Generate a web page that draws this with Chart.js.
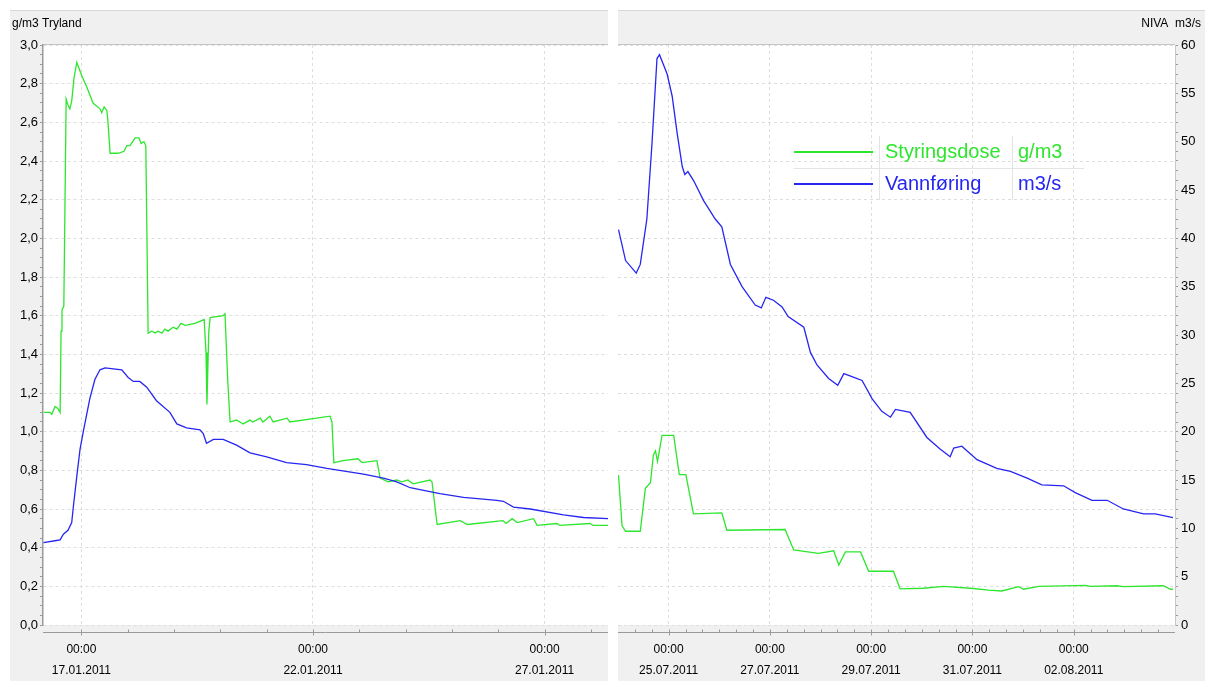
<!DOCTYPE html>
<html>
<head>
<meta charset="utf-8">
<title>Tryland / NIVA</title>
<script src="https://cdn.jsdelivr.net/npm/chart.js@4.4.0/dist/chart.umd.min.js"></script>
<style>
    body { margin: 0; background: #fff; width: 1205px; height: 681px; overflow: hidden; }
    .panel { position: absolute; top: 10px; height: 671px; }
    #leftPanel { left: 10px; width: 598px; }
    #rightPanel { left: 618px; width: 587px; }
</style>
</head>
<body>
<div class="panel" id="leftPanel"><canvas id="leftChart"></canvas></div>
<div class="panel" id="rightPanel"><canvas id="rightChart"></canvas></div>
<script>
// x values are days since the panel's start date (00:00)
const seriesNames = ['Styringsdose', 'Vannføring'];
const seriesUnits = ['g/m3', 'm3/s'];

// left panel: Tryland, days since 16.01.2011
const leftTickDays = [1, 6, 11];
const leftTickDates = ['17.01.2011', '22.01.2011', '27.01.2011'];

const leftDoseDays = [0.19, 0.32, 0.36, 0.43, 0.49, 0.54, 0.56, 0.58, 0.62, 0.67, 0.71, 0.75, 0.79, 0.84, 0.90, 1.01, 1.12, 1.25, 1.40, 1.44,
    1.49, 1.55, 1.57, 1.62, 1.79, 1.92, 1.98, 2.05, 2.16, 2.24, 2.29, 2.35, 2.39, 2.44, 2.52, 2.59, 2.65, 2.74, 2.80, 2.87,
    2.98, 3.06, 3.15, 3.24, 3.45, 3.65, 3.69, 3.71, 3.75, 3.78, 4.06, 4.10, 4.16, 4.21, 4.35, 4.49, 4.64, 4.70, 4.86, 4.92,
    5.07, 5.14, 5.44, 5.50, 6.37, 6.41, 6.45, 6.65, 6.97, 7.06, 7.38, 7.45, 7.62, 7.81, 7.92, 8.05, 8.16, 8.53, 8.57, 8.68,
    9.18, 9.33, 10.10, 10.17, 10.30, 10.41, 10.76, 10.84, 11.27, 11.33, 11.98, 12.05, 12.37];
const leftDoseValues = [1.10, 1.10, 1.09, 1.13, 1.12, 1.10, 1.52, 1.63, 1.65, 2.72, 2.69, 2.67, 2.71, 2.83, 2.91, 2.84, 2.78, 2.70, 2.67, 2.65,
    2.68, 2.66, 2.61, 2.44, 2.44, 2.45, 2.48, 2.48, 2.52, 2.52, 2.49, 2.50, 2.48, 1.51, 1.52, 1.51, 1.52, 1.51, 1.53, 1.52,
    1.54, 1.53, 1.56, 1.55, 1.56, 1.58, 1.41, 1.14, 1.52, 1.59, 1.60, 1.61, 1.26, 1.05, 1.06, 1.04, 1.06, 1.05, 1.07, 1.05,
    1.08, 1.05, 1.07, 1.05, 1.08, 1.05, 0.84, 0.85, 0.86, 0.84, 0.85, 0.76, 0.74, 0.75, 0.74, 0.75, 0.73, 0.75, 0.74, 0.52,
    0.54, 0.52, 0.54, 0.525, 0.55, 0.53, 0.55, 0.515, 0.525, 0.515, 0.525, 0.515, 0.515];

const leftFlowDays = [0.18, 0.46, 0.54, 0.61, 0.71, 0.79, 0.82, 0.90, 0.97, 1.04, 1.18, 1.29, 1.40, 1.51, 1.87, 2.01, 2.12, 2.26, 2.41, 2.62,
    2.91, 3.06, 3.27, 3.56, 3.63, 3.70, 3.85, 4.06, 4.35, 4.64, 5.00, 5.43, 5.86, 6.30, 7.09, 7.52, 7.81, 8.10, 8.31, 8.74,
    9.25, 9.97, 10.11, 10.33, 10.69, 11.41, 11.84, 12.37];
const leftFlowValues = [0.426, 0.437, 0.44, 0.47, 0.49, 0.53, 0.60, 0.77, 0.91, 1.00, 1.17, 1.27, 1.32, 1.33, 1.32, 1.28, 1.26, 1.26, 1.23, 1.16,
    1.10, 1.04, 1.02, 1.01, 0.99, 0.94, 0.96, 0.96, 0.93, 0.89, 0.87, 0.84, 0.83, 0.81, 0.78, 0.76, 0.74, 0.71, 0.70, 0.68,
    0.66, 0.645, 0.64, 0.61, 0.60, 0.57, 0.556, 0.55];

// right panel: NIVA, days since 24.07.2011
const rightTickDays = [1, 3, 5, 7, 9];
const rightTickDates = ['25.07.2011', '27.07.2011', '29.07.2011', '31.07.2011', '02.08.2011'];

const rightDoseDays = [0.01, 0.08, 0.15, 0.44, 0.54, 0.64, 0.70, 0.74, 0.78, 0.87, 1.10, 1.21, 1.34, 1.49, 2.05, 2.15, 3.30, 3.47, 3.96, 4.26,
    4.36, 4.49, 4.79, 4.95, 5.44, 5.57, 6.03, 6.43, 6.96, 7.32, 7.58, 7.91, 8.01, 8.31, 9.23, 9.33, 9.85, 9.98, 10.77, 10.91, 10.96];
const rightDoseValues = [0.775, 0.513, 0.485, 0.485, 0.707, 0.736, 0.881, 0.90, 0.846, 0.981, 0.981, 0.778, 0.778, 0.575, 0.58, 0.49, 0.494, 0.388, 0.37, 0.384,
    0.31, 0.378, 0.378, 0.278, 0.278, 0.187, 0.19, 0.20, 0.19, 0.18, 0.176, 0.198, 0.185, 0.20, 0.205, 0.20, 0.203, 0.198, 0.203, 0.185, 0.185];

const rightFlowDays = [0.01, 0.15, 0.36, 0.44, 0.57, 0.67, 0.77, 0.82, 0.97, 1.07, 1.17, 1.27, 1.32, 1.38, 1.49, 1.69, 1.92, 2.05, 2.22, 2.45,
    2.71, 2.83, 2.92, 3.07, 3.24, 3.36, 3.67, 3.80, 3.93, 4.16, 4.34, 4.46, 4.62, 4.82, 5.02, 5.21, 5.38, 5.48, 5.77, 6.10,
    6.36, 6.56, 6.63, 6.79, 7.09, 7.48, 7.75, 8.08, 8.37, 8.80, 9.03, 9.36, 9.66, 9.98, 10.38, 10.61, 10.96];
const rightFlowValues = [40.9, 37.7, 36.4, 37.3, 42.0, 49.7, 58.6, 59.0, 57.0, 54.7, 50.8, 47.4, 46.6, 46.9, 46.0, 43.9, 42.0, 41.2, 37.3, 35.0,
    33.1, 32.8, 33.9, 33.6, 32.9, 31.9, 30.8, 28.2, 26.9, 25.5, 24.8, 26.0, 25.7, 25.3, 23.4, 22.1, 21.5, 22.3, 22.0, 19.4,
    18.2, 17.4, 18.3, 18.5, 17.1, 16.2, 15.9, 15.2, 14.5, 14.4, 13.7, 12.9, 12.9, 12.0, 11.5, 11.5, 11.1];

const FONT = "'Liberation Sans Narrow', 'Liberation Sans', Arial, sans-serif";
const GREEN = '#2ee62e';
const BLUE = '#2626f0';
const GRID = '#dedede';
const AXIS = '#9a9a9a';

Chart.defaults.font.family = FONT;
Chart.defaults.font.size = 13;
Chart.defaults.color = '#000';

const toPoints = (xs, ys) => xs.map((x, i) => ({ x: x, y: ys[i] }));

const panelBg = {
    id: 'panelBg',
    beforeDraw(chart) {
        const { ctx, chartArea: a, width, height } = chart;
        ctx.save();
        ctx.fillStyle = '#f0f0f0';
        ctx.fillRect(0, 0, width, height);
        ctx.fillStyle = '#d8d8d8';
        ctx.fillRect(0, 0, width, 1);
        ctx.fillStyle = '#fff';
        ctx.fillRect(a.left, a.top, a.right - a.left, a.bottom - a.top);
        ctx.strokeStyle = '#c4c4c4';
        ctx.beginPath();
        ctx.moveTo(a.left, a.top - 0.5);
        ctx.lineTo(a.right, a.top - 0.5);
        ctx.stroke();
        ctx.restore();
    }
};

const panelTitle = {
    id: 'panelTitle',
    afterDraw(chart, args, opts) {
        const ctx = chart.ctx;
        ctx.save();
        ctx.font = '12px ' + FONT;
        ctx.fillStyle = '#000';
        ctx.textBaseline = 'middle';
        ctx.textAlign = opts.align;
        ctx.fillText(opts.text, opts.align === 'left' ? 2 : chart.width - 4, 14);
        ctx.restore();
    }
};

// axis line below the plot, slightly detached like the original
const timeAxisLine = {
    id: 'timeAxisLine',
    afterDraw(chart) {
        const x = chart.scales.x, a = chart.chartArea, ctx = chart.ctx;
        const y = a.bottom + 7.5;
        ctx.save();
        ctx.strokeStyle = AXIS;
        ctx.lineWidth = 1;
        ctx.beginPath();
        ctx.moveTo(a.left, y);
        ctx.lineTo(a.right, y);
        x.ticks.forEach(t => {
            const px = Math.round(x.getPixelForValue(t.value)) + 0.5;
            ctx.moveTo(px, y - 3);
            ctx.lineTo(px, y + (t.major ? 3 : 0));
        });
        ctx.stroke();
        ctx.restore();
    }
};

const tableLegend = {
    id: 'tableLegend',
    afterDraw(chart, args, opts) {
        if (!opts.show) return;
        const ctx = chart.ctx;
        const sets = chart.data.datasets;
        ctx.save();
        ctx.font = '20px ' + FONT;
        ctx.textBaseline = 'middle';
        ctx.strokeStyle = '#e4e4e4';
        ctx.lineWidth = 1;
        ctx.beginPath();
        ctx.moveTo(opts.x, opts.y + opts.rowH / 2 + 0.5);
        ctx.lineTo(opts.x + opts.width, opts.y + opts.rowH / 2 + 0.5);
        opts.cols.forEach(c => {
            ctx.moveTo(opts.x + c - 5.5, opts.y - opts.rowH / 2);
            ctx.lineTo(opts.x + c - 5.5, opts.y + opts.rowH * 1.5);
        });
        ctx.stroke();
        sets.forEach((ds, i) => {
            const y = opts.y + i * opts.rowH;
            ctx.strokeStyle = ds.borderColor;
            ctx.lineWidth = 2;
            ctx.beginPath();
            ctx.moveTo(opts.x, y);
            ctx.lineTo(opts.x + opts.lineLen, y);
            ctx.stroke();
            ctx.fillStyle = ds.borderColor;
            ctx.fillText(seriesNames[i], opts.x + opts.cols[0], y);
            ctx.fillText(seriesUnits[i], opts.x + opts.cols[1], y);
        });
        ctx.restore();
    }
};

function makeTimeScale(min, max, step, tickDays, tickDates) {
    return {
        type: 'linear',
        min: min,
        max: max,
        afterBuildTicks(scale) {
            // only ticks strictly inside the range, so the label padding does not shrink the plot
            const ticks = [];
            for (let k = Math.floor(min / step + 1e-9) + 1; k * step < max - 1e-9; k++) {
                const v = k * step;
                const idx = tickDays.findIndex(d => Math.abs(d - v) < 1e-6);
                ticks.push({ value: v, major: idx >= 0, idx: idx });
            }
            scale.ticks = ticks;
        },
        afterFit(scale) { scale.height = 56; },
        ticks: {
            autoSkip: false,
            maxRotation: 0,
            padding: 14,
            font: { size: 12, lineHeight: 1.75 },
            callback: (v, i, ticks) => ticks[i].major ? ['00:00', tickDates[ticks[i].idx]] : ''
        },
        grid: {
            color: c => (c.tick && c.tick.major) ? GRID : 'transparent',
            drawTicks: false
        },
        border: { display: false, dash: [3, 3] }
    };
}

function makeDatasets(doseDays, doseVals, flowDays, flowVals, doseAxis, flowAxis) {
    return [
        {
            label: seriesNames[0],
            data: toPoints(doseDays, doseVals),
            borderColor: GREEN,
            borderWidth: 1.3,
            pointRadius: 0,
            tension: 0,
            yAxisID: doseAxis,
            order: 1
        },
        {
            label: seriesNames[1],
            data: toPoints(flowDays, flowVals),
            borderColor: BLUE,
            borderWidth: 1.3,
            pointRadius: 0,
            tension: 0,
            yAxisID: flowAxis,
            order: 0
        }
    ];
}

const baseOptions = {
    responsive: true,
    maintainAspectRatio: false,
    animation: false,
    events: [],
    layout: { padding: { top: 35, right: 0, bottom: 0, left: 0 } },
    plugins: { legend: { display: false }, tooltip: { enabled: false } }
};

new Chart(document.getElementById('leftChart'), {
    type: 'line',
    data: { datasets: makeDatasets(leftDoseDays, leftDoseValues, leftFlowDays, leftFlowValues, 'y', 'y') },
    options: {
        ...baseOptions,
        plugins: {
            ...baseOptions.plugins,
            panelTitle: { text: 'g/m3 Tryland', align: 'left' },
            tableLegend: { show: false }
        },
        scales: {
            x: makeTimeScale(0.17, 12.37, 1, leftTickDays, leftTickDates),
            y: {
                min: 0,
                max: 3,
                afterBuildTicks(scale) {
                    const ticks = [];
                    for (let k = 0; k <= 60; k++) ticks.push({ value: k / 20, major: k % 4 === 0 });
                    scale.ticks = ticks;
                },
                afterFit(scale) { scale.width = 33; },
                ticks: {
                    autoSkip: false,
                    padding: 2,
                    callback: (v, i, ticks) => ticks[i].major ? v.toFixed(1).replace('.', ',') : ''
                },
                grid: {
                    color: c => (c.tick && c.tick.major) ? GRID : 'transparent',
                    tickColor: AXIS,
                    tickLength: 3
                },
                border: { color: AXIS, width: 1.5, dash: [3, 3] }
            }
        }
    },
    plugins: [panelBg, panelTitle, timeAxisLine, tableLegend]
});

new Chart(document.getElementById('rightChart'), {
    type: 'line',
    data: { datasets: makeDatasets(rightDoseDays, rightDoseValues, rightFlowDays, rightFlowValues, 'yg', 'yq') },
    options: {
        ...baseOptions,
        plugins: {
            ...baseOptions.plugins,
            panelTitle: { text: 'NIVA  m3/s', align: 'right' },
            tableLegend: { show: true, x: 176, y: 142, rowH: 32, lineLen: 79, width: 290, cols: [91, 224] }
        },
        scales: {
            x: makeTimeScale(0, 11, 1 / 3, rightTickDays, rightTickDates),
            yg: {
                position: 'left',
                min: 0,
                max: 3,
                ticks: { display: false, stepSize: 0.2 },
                afterFit(scale) { scale.width = 0; },
                grid: { color: GRID, drawTicks: false },
                border: { display: false, dash: [3, 3] }
            },
            yq: {
                position: 'right',
                min: 0,
                max: 60,
                afterBuildTicks(scale) {
                    const ticks = [];
                    for (let k = 0; k <= 60; k++) ticks.push({ value: k, major: k % 5 === 0 });
                    scale.ticks = ticks;
                },
                afterFit(scale) { scale.width = 30; },
                ticks: {
                    autoSkip: false,
                    padding: 3,
                    callback: (v, i, ticks) => ticks[i].major ? String(v) : ''
                },
                grid: { drawOnChartArea: false, tickColor: AXIS, tickLength: 3 },
                border: { color: '#c8c8c8' }
            }
        }
    },
    plugins: [panelBg, panelTitle, timeAxisLine, tableLegend]
});
</script>
</body>
</html>
